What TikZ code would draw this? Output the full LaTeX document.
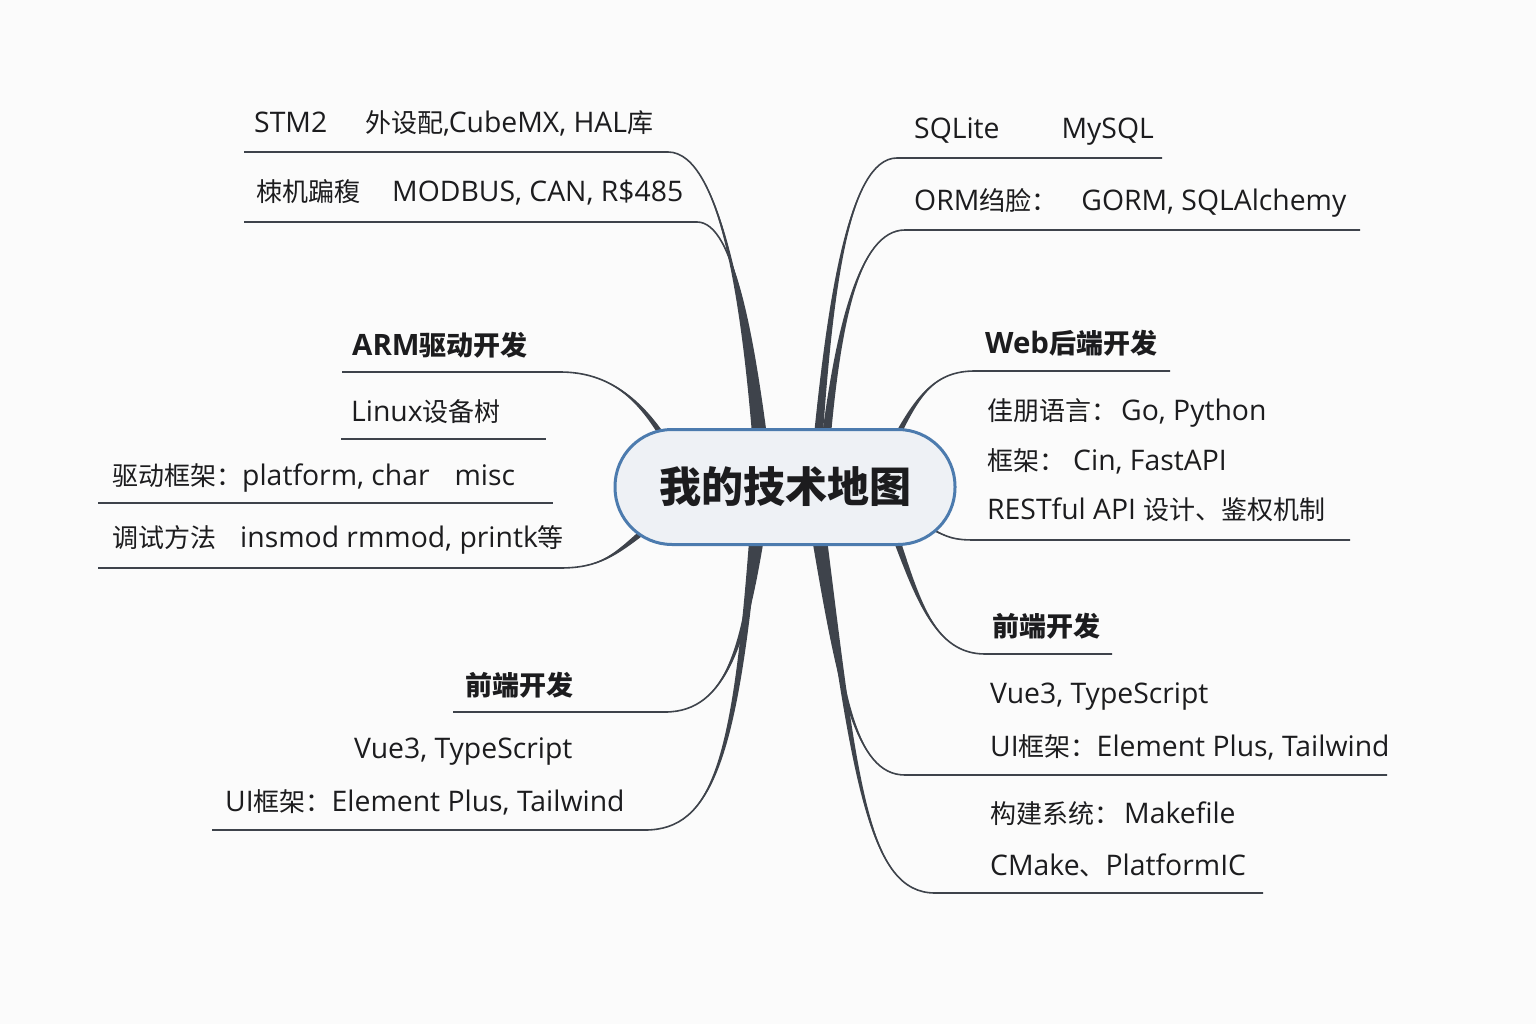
\documentclass[tikz,border=0pt]{standalone}
\usepackage{fontspec}
\setmainfont[Scale=1.09]{Open Sans}
\newfontfamily\latfont[Scale=1.09]{Open Sans}
\newfontfamily\cjkfont{Noto Sans CJK SC}
\newXeTeXintercharclass\mycjkclass
\newcount\mycnt
\mycnt="2E80
\loop \XeTeXcharclass\mycnt=\mycjkclass \advance\mycnt by 1 \ifnum\mycnt<"A000 \repeat
\mycnt="FF00
\loop \XeTeXcharclass\mycnt=\mycjkclass \advance\mycnt by 1 \ifnum\mycnt<"FFF0 \repeat
\XeTeXinterchartoks 0 \mycjkclass = {\cjkfont}
\XeTeXinterchartoks 4095 \mycjkclass = {\cjkfont}
\XeTeXinterchartoks \mycjkclass 0 = {\latfont}
\XeTeXinterchartoks \mycjkclass 4095 = {\latfont}
\XeTeXinterchartokenstate=1
\usetikzlibrary{calc}
\definecolor{conn}{HTML}{3E434B}
\definecolor{ink}{HTML}{1C1C1E}
\definecolor{pillfill}{HTML}{EEF1F5}
\definecolor{pillborder}{HTML}{4C7BAE}
\definecolor{bgc}{HTML}{FBFBFB}
\tikzset{
  branch/.style={draw=conn, line width=1.6pt},
  sepline/.style={draw=conn, line width=1.6pt},
  txt/.style={anchor=base west, inner sep=0pt, text=ink, font=\fontsize{26}{30}\selectfont},
  hd/.style={txt, font=\fontsize{27}{30}\selectfont\bfseries},
  pill/.style={draw=pillborder, fill=pillfill, line width=3pt, rounded corners=57pt,
    minimum width=340pt, minimum height=115pt, text=ink, font=\fontsize{42}{46}\selectfont\bfseries}
}
\newcommand\mmBranch[6]{%
  \path ($(#1)!#6!90:#2$) coordinate (tA) ($(#1)!#6!-90:#2$) coordinate (tB);
  \fill[conn] (tA) .. controls ($#2+0.5*(tA)-0.5*(#1)$) and #3 .. #4 .. controls #3 and ($#2+0.5*(tB)-0.5*(#1)$) .. (tB) -- cycle;
  \draw[branch] (#1) .. controls #2 and #3 .. #4 -- (#5);
}
\begin{document}
\begin{tikzpicture}[x=1pt,y=-1pt]
\fill[bgc] (0,0) rectangle (1536,1024);
\useasboundingbox (0,0) rectangle (1536,1024);

% start / end coordinates
\coordinate (s1) at (757,440); \coordinate (e1) at (244,152);
\coordinate (s2) at (763,440); \coordinate (e2) at (244,222);
\coordinate (s3) at (818,440); \coordinate (e3) at (1162,158);
\coordinate (s4) at (826,440); \coordinate (e4) at (1360,230);
\coordinate (s5) at (895,440); \coordinate (e5) at (1170,371);
\coordinate (s6) at (930,528); \coordinate (e6) at (1350,540);
\coordinate (s7) at (895,535); \coordinate (e7) at (1112,654);
\coordinate (s8) at (816,535); \coordinate (e8) at (1387,775);
\coordinate (s9) at (822,535); \coordinate (e9) at (1263,893);
\coordinate (s10) at (760,535); \coordinate (e10) at (453,712);
\coordinate (s11) at (754,535); \coordinate (e11) at (212,830);
\coordinate (s12) at (665,440); \coordinate (e12) at (342,372);
\coordinate (s13) at (645,530); \coordinate (e13) at (98,568);
\coordinate (l1a) at (341,439); \coordinate (l1b) at (546,439);
\coordinate (l2a) at (98,503); \coordinate (l2b) at (553,503);

\mmBranch{s1}{(745,320)}{(722,152)}{(668,152)}{e1}{4.5pt}
\mmBranch{s2}{(752,340)}{(735,222)}{(697,222)}{e2}{4.5pt}
\mmBranch{s3}{(830,300)}{(848,158)}{(897,158)}{e3}{4.5pt}
\mmBranch{s4}{(838,330)}{(858,230)}{(905,230)}{e4}{4.5pt}
\mmBranch{s5}{(918,395)}{(935,371)}{(975,371)}{e5}{3pt}
\mmBranch{s6}{(948,538)}{(955,540)}{(975,540)}{e6}{0.8pt}
\mmBranch{s7}{(918,600)}{(935,654)}{(985,654)}{e7}{3.5pt}
\mmBranch{s8}{(840,690)}{(855,775)}{(905,775)}{e8}{4.5pt}
\mmBranch{s9}{(855,780)}{(868,893)}{(935,893)}{e9}{4.5pt}
\mmBranch{s10}{(745,640)}{(728,712)}{(665,712)}{e10}{4.5pt}
\mmBranch{s11}{(735,760)}{(712,830)}{(645,830)}{e11}{4.5pt}
\mmBranch{s12}{(640,400)}{(610,372)}{(560,372)}{e12}{3pt}
\mmBranch{s13}{(615,555)}{(600,568)}{(560,568)}{e13}{3pt}

\draw[sepline] (l1a) -- (l1b);
\draw[sepline] (l2a) -- (l2b);

\node[pill] (c) at (785,487) {我的技术地图};

% top-left
\node[txt] (t1) at (254,133) {STM2\hspace{38pt}外设配,CubeMX, HAL库};
\node[txt] (t2) at (256,202) {栜机蹁稪\hspace{32pt}MODBUS, CAN, R\$485};
% top-right
\node[txt] (t3) at (914,139) {SQLite\hspace{62pt}MySQL};
\node[txt] (t4) at (914,211) {ORM绉脸：\hspace{24pt}GORM, SQLAlchemy};
% right
\node[hd] (h1) at (985,353) {Web后端开发};
\node[txt] (t5) at (987,420) {佳朋语言：\hspace{4pt}Go, Python};
\node[txt] (t6) at (987,470) {框架：\hspace{8pt}Cin, FastAPI};
\node[txt] (t7) at (987,519) {RESTful API 设计、鉴权机制};
% left
\node[hd] (h2) at (352,355) {ARM驱动开发};
\node[txt] (t8) at (351,421) {Linux设备树};
\node[txt] (t9) at (112,485) {驱动框架：platform, char\hspace{25pt}misc};
\node[txt] (t10) at (112,547) {调试方法\hspace{24pt}insmod rmmod, printk等};
% bottom-left
\node[hd] (h3) at (465,695) {前端开发};
\node[txt] (t11) at (354,758) {Vue3, TypeScript};
\node[txt] (t12) at (225,811) {UI框架：Element Plus, Tailwind};
% bottom-right
\node[hd] (h4) at (992,636) {前端开发};
\node[txt] (t13) at (990,703) {Vue3, TypeScript};
\node[txt] (t14) at (990,756) {UI框架：Element Plus, Tailwind};
\node[txt] (t15) at (990,823) {构建系统：\hspace{4pt}Makefile};
\node[txt] (t16) at (990,875) {CMake、PlatformIC};
\end{tikzpicture}
\end{document}
